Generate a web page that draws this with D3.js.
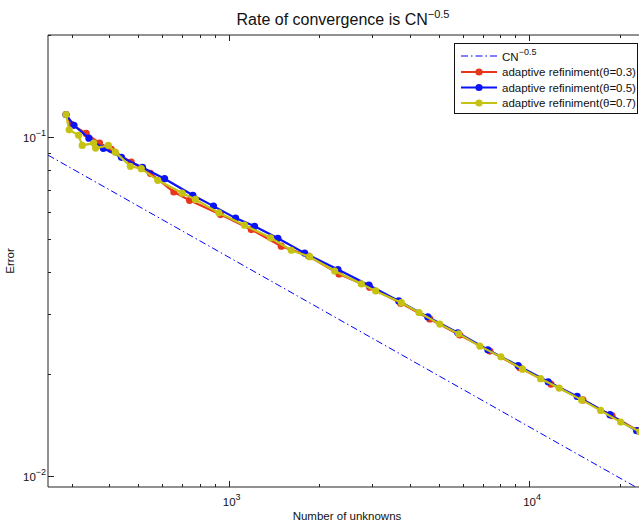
<!DOCTYPE html>
<html lang="en">
<head>
  <meta charset="UTF-8" />
  <title>Rate of convergence</title>
  <script src="https://d3js.org/d3.v7.min.js"></script>
  <style>
    body { margin: 0; background: #fff; }
    svg { display: block; font-family: "Liberation Sans", Arial, Helvetica, sans-serif; }
  </style>
</head>
<body>
  <svg width="639" height="523"></svg>

  <script>
    // reference slope line C*N^-0.5 (end points)
    const refN   = [250, 25000];
    const refErr = [0.0885, 0.00885];

    // adaptive refinement, theta = 0.3
    const nTheta03 = [287, 299, 335, 371, 406, 473, 548, 656, 740, 938, 1188, 1495, 1844, 2327,
                      2944, 3735, 4667, 5875, 7396, 9311, 11817, 15100, 18866, 23030];
    const errTheta03 = [0.1166, 0.1090, 0.1025, 0.0960, 0.0920, 0.0844, 0.0782, 0.0689, 0.0651,
                        0.0591, 0.0534, 0.0477, 0.0446, 0.0395, 0.0361, 0.0324, 0.0291, 0.0261,
                        0.0234, 0.0209, 0.0187, 0.0168, 0.0151, 0.01363];

    // adaptive refinement, theta = 0.5
    const nTheta05 = [287, 305, 342, 382, 439, 516, 611, 759, 889, 1053, 1218, 1457, 1788, 2309,
                      2929, 3679, 4597, 5787, 7286, 9192, 11570, 14454, 18578, 22800];
    const errTheta05 = [0.1166, 0.1083, 0.0993, 0.0927, 0.0872, 0.0814, 0.0754, 0.0674, 0.0626,
                        0.0577, 0.0546, 0.0503, 0.0455, 0.0407, 0.0366, 0.0329, 0.0295, 0.0265,
                        0.0236, 0.0212, 0.0190, 0.0172, 0.0152, 0.01363];

    // adaptive refinement, theta = 0.7
    const nTheta07 = [287, 294, 316, 325, 355, 360, 397, 419, 470, 511, 580, 699, 774, 926, 1128,
                      1377, 1614, 1858, 2251, 2763, 3083, 3755, 4298, 5040, 5832, 6850, 8050, 9506,
                      10914, 12589, 14950, 17298, 20170, 23390];
    const errTheta07 = [0.1166, 0.1051, 0.1012, 0.0945, 0.0960, 0.0928, 0.0945, 0.0903, 0.0820,
                        0.0807, 0.0746, 0.0684, 0.0655, 0.0598, 0.0550, 0.0505, 0.0464, 0.0444,
                        0.0403, 0.0369, 0.0352, 0.0325, 0.0304, 0.0281, 0.0263, 0.0242, 0.0225,
                        0.0207, 0.0194, 0.0182, 0.0168, 0.01564, 0.01445, 0.01353];

    const legendLabels = ["adaptive refiniment(\u03b8=0.3)", "adaptive refiniment(\u03b8=0.5)",
                          "adaptive refiniment(\u03b8=0.7)"];
    const xMajor = [1e3, 1e4];
    const yMajor = [1e-2, 1e-1];

    const series = [
      { n: nTheta03, err: errTheta03, color: "#e8361c", label: legendLabels[0] },
      { n: nTheta05, err: errTheta05, color: "#0a14f5", label: legendLabels[1] },
      { n: nTheta07, err: errTheta07, color: "#c6c213", label: legendLabels[2] }
    ];

    const plotLeft = 48, plotRight = 650, plotTop = 35, plotBottom = 487;
    const svg = d3.select("svg");

    const x = d3.scaleLog().domain([250, 25260]).range([plotLeft, plotRight]);
    const y = d3.scaleLog().domain([0.0093, 0.2]).range([plotBottom, plotTop]);

    svg.append("defs").append("clipPath").attr("id", "plot-clip")
      .append("rect").attr("x", plotLeft).attr("y", plotTop)
      .attr("width", plotRight - plotLeft).attr("height", plotBottom - plotTop);

    const plot = svg.append("g").attr("clip-path", "url(#plot-clip)");

    // reference line
    plot.append("path")
      .datum(d3.zip(refN, refErr))
      .attr("fill", "none")
      .attr("stroke", "#0000ff")
      .attr("stroke-width", 1)
      .attr("stroke-dasharray", "7,3,1.5,3")
      .attr("d", d3.line().x(d => x(d[0])).y(d => y(d[1])));

    // data series
    series.forEach(s => {
      const pts = d3.zip(s.n, s.err);
      plot.append("path")
        .datum(pts)
        .attr("fill", "none")
        .attr("stroke", s.color)
        .attr("stroke-width", 2.2)
        .attr("d", d3.line().x(d => x(d[0])).y(d => y(d[1])));
      plot.selectAll(null)
        .data(pts)
        .enter().append("circle")
        .attr("cx", d => x(d[0]))
        .attr("cy", d => y(d[1]))
        .attr("r", 3.6)
        .attr("fill", s.color);
    });

    // axes box (MATLAB style, ticks pointing inward)
    const axisColor = "#222";
    svg.append("path")
      .attr("d", `M${plotRight},${plotTop}H${plotLeft}V${plotBottom}H${plotRight}V${plotTop}`)
      .attr("fill", "none").attr("stroke", axisColor).attr("stroke-width", 1);

    const xTicks = x.ticks().filter(v => v >= 250 && v <= 25260);
    const yTicks = y.ticks().filter(v => v >= 0.0093 && v <= 0.2);
    const isMajor = v => Math.abs(Math.log10(v) - Math.round(Math.log10(v))) < 1e-6;

    const ticks = svg.append("g").attr("stroke", axisColor).attr("stroke-width", 1);
    xTicks.forEach(v => {
      const len = isMajor(v) ? 6 : 3;
      const px = Math.round(x(v)) + 0.5;
      ticks.append("line").attr("x1", px).attr("x2", px).attr("y1", plotBottom).attr("y2", plotBottom - len);
      ticks.append("line").attr("x1", px).attr("x2", px).attr("y1", plotTop).attr("y2", plotTop + len);
    });
    yTicks.forEach(v => {
      const len = isMajor(v) ? 6 : 3;
      const py = Math.round(y(v)) + 0.5;
      ticks.append("line").attr("x1", plotLeft).attr("x2", plotLeft + len).attr("y1", py).attr("y2", py);
      ticks.append("line").attr("x1", plotRight).attr("x2", plotRight - len).attr("y1", py).attr("y2", py);
    });

    // tick labels as 10^k
    function powerLabel(g, v) {
      const t = g.append("text").attr("font-size", 11.5).attr("fill", "#111");
      t.append("tspan").text("10");
      t.append("tspan").attr("dy", -6).attr("font-size", 9)
        .text(String(Math.round(Math.log10(v))).replace("-", "\u2212"));
      return t;
    }
    xMajor.forEach(v => {
      powerLabel(svg, v).attr("x", x(v) - 6).attr("y", plotBottom + 19);
    });
    yMajor.forEach(v => {
      powerLabel(svg, v).attr("x", 23).attr("y", y(v) + 5);
    });

    // title
    const title = svg.append("text")
      .attr("x", 343).attr("y", 25)
      .attr("text-anchor", "middle")
      .attr("font-size", 16).attr("fill", "#111");
    title.append("tspan").text("Rate of convergence is CN");
    title.append("tspan").attr("dy", -7).attr("font-size", 11).text("\u22120.5");

    // axis labels
    svg.append("text")
      .attr("x", 347).attr("y", 520)
      .attr("text-anchor", "middle")
      .attr("font-size", 11.5).attr("fill", "#111")
      .text("Number of unknowns");
    svg.append("text")
      .attr("transform", "translate(14,261) rotate(-90)")
      .attr("text-anchor", "middle")
      .attr("font-size", 11.5).attr("fill", "#111")
      .text("Error");

    // legend
    const lg = svg.append("g");
    lg.append("rect")
      .attr("x", 454.5).attr("y", 43.5).attr("width", 183).attr("height", 70)
      .attr("fill", "#fff").attr("stroke", "#111").attr("stroke-width", 1);
    const rowY = [56, 72, 87.5, 103];
    lg.append("line")
      .attr("x1", 461).attr("x2", 497).attr("y1", rowY[0]).attr("y2", rowY[0])
      .attr("stroke", "#0000ff").attr("stroke-width", 1).attr("stroke-dasharray", "7,3,1.5,3");
    const refText = lg.append("text").attr("x", 502).attr("y", rowY[0] + 5)
      .attr("font-size", 11.5).attr("fill", "#111");
    refText.append("tspan").text("CN");
    refText.append("tspan").attr("dy", -6).attr("font-size", 9).text("\u22120.5");
    series.forEach((s, i) => {
      const yy = rowY[i + 1];
      lg.append("line")
        .attr("x1", 461).attr("x2", 497).attr("y1", yy).attr("y2", yy)
        .attr("stroke", s.color).attr("stroke-width", 2.2);
      lg.append("circle").attr("cx", 479).attr("cy", yy).attr("r", 3.6).attr("fill", s.color);
      lg.append("text").attr("x", 502).attr("y", yy + 4)
        .attr("font-size", 11.5).attr("fill", "#111")
        .text(s.label);
    });
  </script>
</body>
</html>
